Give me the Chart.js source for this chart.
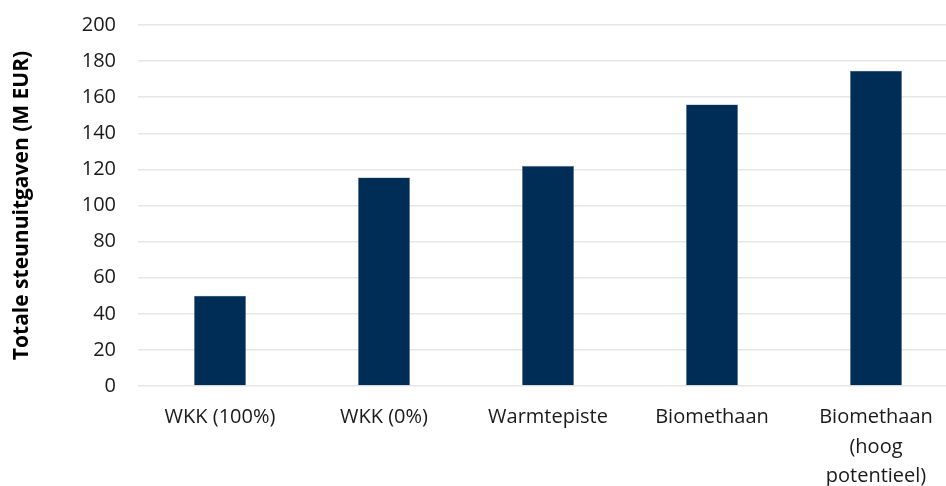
<!DOCTYPE html>
<html>
<head>
<meta charset="utf-8">
<script src="https://cdn.jsdelivr.net/npm/chart.js@4"></script>
<style>
  html, body { margin:0; padding:0; background:#fff; overflow:hidden; }
  #wrap { width:960px; height:486px; }
</style>
</head>
<body>
<div id="wrap"><canvas id="chart" width="960" height="486"></canvas></div>
<script>
// Data
const categories = ['WKK (100%)', 'WKK (0%)', 'Warmtepiste', 'Biomethaan', ['Biomethaan', '(hoog', 'potentieel)']];
const steunuitgaven = [50, 115.5, 122, 156, 174.7];
const yTicks = { min: 0, max: 200, step: 20 };

const FONT = "'Open Sans', 'Noto Sans', sans-serif";

new Chart(document.getElementById('chart'), {
  type: 'bar',
  data: {
    labels: categories,
    datasets: [{
      data: steunuitgaven,
      backgroundColor: '#002d55',
      borderColor: '#5c7a99',
      borderWidth: 0.6,
      barPercentage: 0.317,
      categoryPercentage: 1
    }]
  },
  options: {
    responsive: false,
    animation: false,
    layout: { padding: { top: 25, left: 0, right: 2, bottom: 0 } },
    plugins: { legend: { display: false }, tooltip: { enabled: false } },
    scales: {
      x: {
        grid: { display: false },
        border: { display: false },
        ticks: { color: '#1a1a1a', font: { family: FONT, size: 20, lineHeight: 1.47 }, padding: 9, maxRotation: 0, autoSkip: false },
        afterFit: s => { s.height = 100; s.paddingLeft = 0; s.paddingRight = 0; }
      },
      y: {
        min: yTicks.min, max: yTicks.max,
        grid: { color: '#e6e6e6', lineWidth: 1.5, drawTicks: false },
        border: { display: false },
        ticks: { stepSize: yTicks.step, color: '#1a1a1a', font: { family: FONT, size: 20 }, padding: 22 },
        title: { display: true, text: 'Totale steunuitgaven (M EUR)', color: '#000', font: { family: FONT, size: 21, weight: 'bold' }, padding: { top: 9, bottom: 0 } },
        afterFit: s => { s.width = 138; s.paddingTop = 0; s.paddingBottom = 0; }
      }
    }
  }
});
</script>
</body>
</html>
